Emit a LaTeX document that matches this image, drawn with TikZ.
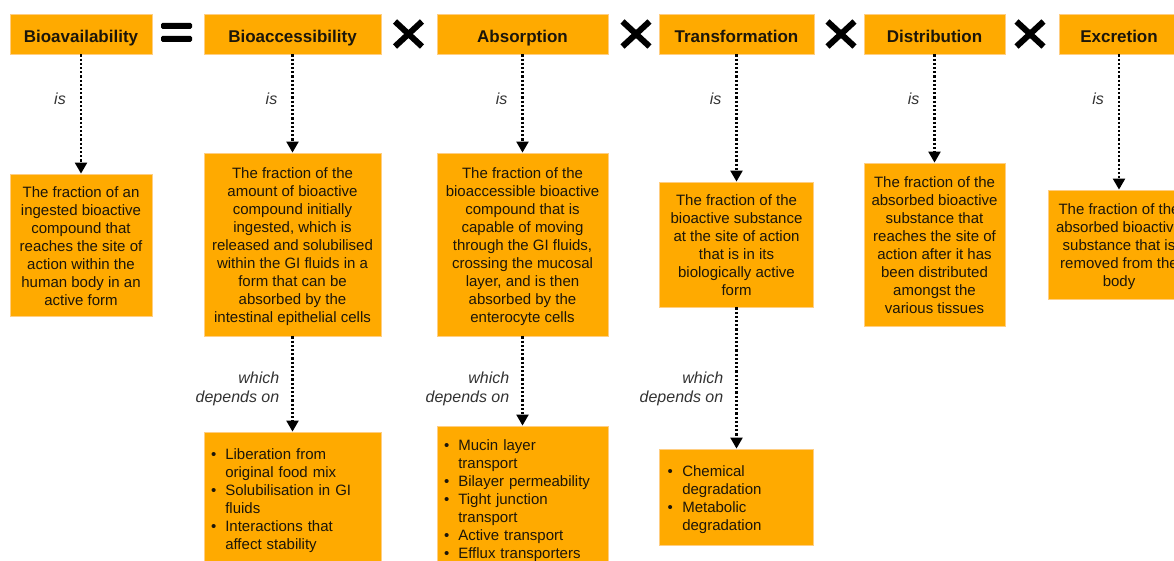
\documentclass[tikz,border=0pt]{standalone}
\usepackage{fontspec}
\setmainfont{Liberation Sans}
\usetikzlibrary{arrows.meta}
\definecolor{boxfill}{RGB}{255,170,0}
\definecolor{boxline}{RGB}{255,206,130}
\definecolor{txt}{RGB}{28,22,10}
\definecolor{lblc}{RGB}{50,50,50}
\newcommand\ctext[1]{\raisebox{-2.5pt}[\height][\depth]{\begin{tabular}{@{}c@{}}#1\end{tabular}}}
\newcommand\btext[2]{\raisebox{-3pt}[\height][\depth]{\begin{tabular}{@{}l@{\hspace{#1}}l@{}}#2\end{tabular}}}
\tikzset{
  box/.style={draw=boxline, line width=0.8pt, fill=boxfill, inner sep=0pt, text=txt},
  title/.style={box, minimum height=40pt, text height=17pt, text depth=0pt, font=\fontsize{17}{20}\selectfont\bfseries},
  defn/.style={box, font=\fontsize{15}{18}\selectfont},
  lst/.style={box, align=left, inner xsep=7pt, font=\fontsize{15}{18}\selectfont},
  lbl/.style={text=lblc, font=\fontsize{16}{19}\selectfont\itshape, inner sep=0pt},
  link/.style={draw=black, line width=2.2pt, dash pattern=on 2.2pt off 2pt, -{Triangle[width=12pt,length=11pt]}},
  sym/.style={draw=black, line width=6pt, line cap=butt},
}
\begin{document}
\begin{tikzpicture}[x=1pt, y=-1pt]
\useasboundingbox (0,0) rectangle (1174,561);
\clip (0,0) rectangle (1174,561);

% top row
\node[title, minimum width=142pt] (t1) at (81,34) {Bioavailability};
\node[title, minimum width=177pt] (t2) at (292.5,34) {Bioaccessibility};
\node[title, minimum width=171pt] (t3) at (522.5,34) {Absorption};
\node[title, minimum width=155pt] (t4) at (736.5,34) {Transformation};
\node[title, minimum width=141pt] (t5) at (934.5,34) {Distribution};
\node[title, minimum width=120pt] (t6) at (1119,34) {Excretion};

% operators
\fill[black, rounded corners=1.5pt] (161,23) rectangle (192,29);
\fill[black, rounded corners=1.5pt] (161,36) rectangle (192,42);
\foreach \c in {408.5,636,841,1030}{
  \draw[sym] (\c-13.5,21.5) -- (\c+13.5,46.5);
  \draw[sym] (\c-13.5,46.5) -- (\c+13.5,21.5);
}

% definitions
\node[defn, minimum width=142pt, minimum height=142pt] (d1) at (81,245)
  {\ctext{The fraction of an\\ingested bioactive\\compound that\\reaches the site of\\action within the\\human body in an\\active form}};
\node[defn, minimum width=177pt, minimum height=183pt] (d2) at (292.5,244.5)
  {\ctext{The fraction of the\\amount of bioactive\\compound initially\\ingested, which is\\released and solubilised\\within the GI fluids in a\\form that can be\\absorbed by the\\intestinal epithelial cells}};
\node[defn, minimum width=171pt, minimum height=183pt] (d3) at (522.5,244.5)
  {\ctext{The fraction of the\\bioaccessible bioactive\\compound that is\\capable of moving\\through the GI fluids,\\crossing the mucosal\\layer, and is then\\absorbed by the\\enterocyte cells}};
\node[defn, minimum width=154pt, minimum height=125pt] (d4) at (736.5,244.5)
  {\ctext{The fraction of the\\bioactive substance\\at the site of action\\that is in its\\biologically active\\form}};
\node[defn, minimum width=141pt, minimum height=163pt] (d5) at (934.5,244.5)
  {\ctext{The fraction of the\\absorbed bioactive\\substance that\\reaches the site of\\action after it has\\been distributed\\amongst the\\various tissues}};
\node[defn, minimum width=142pt, minimum height=109pt] (d6) at (1119,244.5)
  {\ctext{The fraction of the\\absorbed bioactive\\substance that is\\removed from the\\body}};

% dependency lists
\node[lst, text width=163pt, minimum height=132pt] (b2) at (292.5,498)
  {\btext{9pt}{\textbullet & Liberation from\\ & original food mix\\
   \textbullet & Solubilisation in GI\\ & fluids\\
   \textbullet & Interactions that\\ & affect stability}};
\node[lst, text width=157pt, minimum height=144pt] (b3) at (522.5,498)
  {\btext{9pt}{\textbullet & Mucin layer\\ & transport\\
   \textbullet & Bilayer permeability\\
   \textbullet & Tight junction\\ & transport\\
   \textbullet & Active transport\\
   \textbullet & Efflux transporters}};
\node[lst, inner xsep=8pt, text width=138pt, minimum height=96pt] (b4) at (736.5,497)
  {\btext{9.5pt}{\textbullet & Chemical\\ & degradation\\
   \textbullet & Metabolic\\ & degradation}};

% connectors
\draw[link] (t1) -- (d1);
\draw[link] (t2) -- (d2);
\draw[link] (t3) -- (d3);
\draw[link] (t4) -- (d4);
\draw[link] (t5) -- (d5);
\draw[link] (t6) -- (d6);
\draw[link] (d2) -- (b2);
\draw[link] (d3) -- (b3);
\draw[link] (d4) -- (b4);

% labels
\node[lbl, anchor=east] (is1) at (66,99) {is};
\node[lbl, anchor=east] (is2) at (277.5,99) {is};
\node[lbl, anchor=east] (is3) at (507.5,99) {is};
\node[lbl, anchor=east] (is4) at (721.5,99) {is};
\node[lbl, anchor=east] (is5) at (919.5,99) {is};
\node[lbl, anchor=east] (is6) at (1104,99) {is};
\node[lbl, anchor=east, align=right] (w2) at (279.5,388.5) {which\\depends on};
\node[lbl, anchor=east, align=right] (w3) at (509.5,388.5) {which\\depends on};
\node[lbl, anchor=east, align=right] (w4) at (723.5,388.5) {which\\depends on};
\end{tikzpicture}
\end{document}
